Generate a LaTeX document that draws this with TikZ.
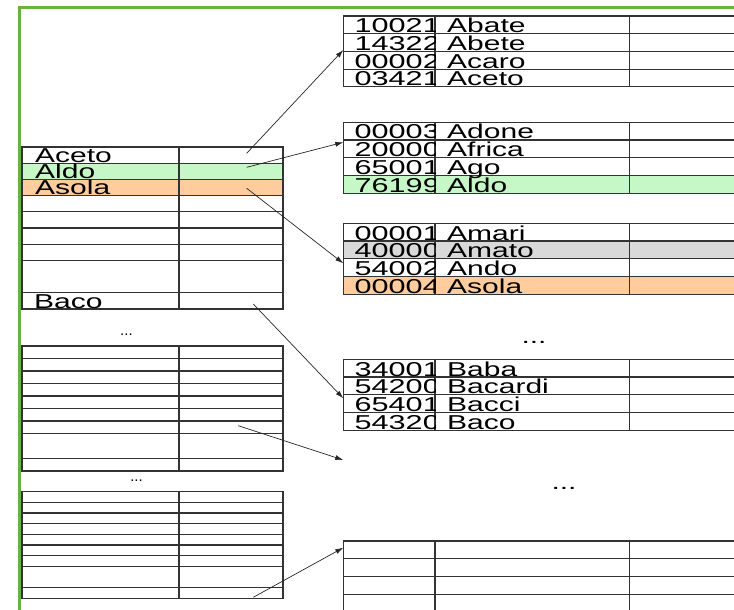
\documentclass[tikz,border=0pt]{standalone}
\usepackage{fontspec}
\setmainfont{Liberation Sans}
\usetikzlibrary{arrows.meta}
\definecolor{cornice}{RGB}{108,177,62}
\definecolor{verdino}{RGB}{198,247,198}
\definecolor{pesca}{RGB}{255,204,158}
\definecolor{grigino}{RGB}{217,217,217}
\newcommand{\schiaccia}[1]{\scalebox{1}[0.67]{#1}}
\newcommand{\chiave}[1]{\scalebox{1.02}[0.67]{#1}}
\tikzset{
  griglia/.style={draw=black!80, line width=1.1pt},
  voce/.style={anchor=base west, inner sep=0pt, font=\fontsize{30}{30}\selectfont},
  puntini/.style={anchor=base, inner sep=0pt, font=\fontsize{30}{30}\selectfont},
  puntinipiccoli/.style={anchor=base, inner sep=0pt, font=\fontsize{15}{15}\selectfont},
  puntatore/.style={black!85, line width=0.7pt, -{Latex[length=8pt,width=5pt]}}
}

\begin{document}
\begin{tikzpicture}[x=1pt, y=-1pt]
    \clip (0,0) rectangle (734,610);
    % cornice verde
    \draw[cornice, line width=3.3pt] (19.7,615) -- (19.7,7.5) -- (740,7.5);

    % righe evidenziate
    \fill[verdino] (22,163.2) rectangle (283,179.4);
    \fill[pesca] (22,179.4) rectangle (283,195.6);
    \fill[verdino] (343.3,175.4) rectangle (745,193.1);
    \fill[grigino] (343.3,241) rectangle (745,258.7);
    \fill[pesca] (343.3,276.4) rectangle (745,294.1);

    % indici a sinistra (primo bordo / altezza riga)
    \foreach \y/\h in {147/16.2, 346/12.5, 491.7/10.66} {
        \draw[griglia] (22,\y) rectangle (283,\y+10*\h);
        \draw[griglia] (179,\y) -- (179,\y+10*\h);
        \foreach \k in {1,...,7,9} \draw[griglia] (22,\y+\k*\h) -- (283,\y+\k*\h);
    }
    \node[voce] (iAceto) at (35,162) {\schiaccia{Aceto}};
    \node[voce] (iAldo) at (35,178.2) {\schiaccia{Aldo}};
    \node[voce] (iAsola) at (35,194.4) {\schiaccia{Asola}};
    \node[voce] (iBaco) at (34,308) {\schiaccia{Baco}};
    \node[puntinipiccoli] (dotsSx1) at (126.5,335.5) {...};
    \node[puntinipiccoli] (dotsSx2) at (136.5,481.5) {...};

    % blocchi dati a destra
    \foreach \y in {16,122.3,223.3,359.3,541} {
        \foreach \k in {0,...,4} \draw[griglia] (343.3,\y+\k*17.7) -- (745,\y+\k*17.7);
        \foreach \x in {343.3,435,629.3} \draw[griglia] (\x,\y) -- (\x,\y+4*17.7);
    }

    % chiavi (tagliate dalla colonna)
    \begin{scope}
        \clip (343.3,0) rectangle (435,610);
        \foreach \c [count=\r] in {10021,14322,00002,03421} \node[voce] (kA\r) at (354.5,15+\r*17.7) {\chiave{\c}};
        \foreach \c [count=\r] in {00003,20000,65001,76199} \node[voce] (kB\r) at (354.5,121.3+\r*17.7) {\chiave{\c}};
        \foreach \c [count=\r] in {00001,40000,54002,00004} \node[voce] (kC\r) at (354.5,222.3+\r*17.7) {\chiave{\c}};
        \foreach \c [count=\r] in {34001,54200,65401,54320} \node[voce] (kD\r) at (354.5,358.3+\r*17.7) {\chiave{\c}};
    \end{scope}
    \foreach \n [count=\r] in {Abate,Abete,Acaro,Aceto} \node[voce] (nA\r) at (447,15+\r*17.7) {\schiaccia{\n}};
    \foreach \n [count=\r] in {Adone,Africa,Ago,Aldo} \node[voce] (nB\r) at (447,121.3+\r*17.7) {\schiaccia{\n}};
    \foreach \n [count=\r] in {Amari,Amato,Ando,Asola} \node[voce] (nC\r) at (447,222.3+\r*17.7) {\schiaccia{\n}};
    \foreach \n [count=\r] in {Baba,Bacardi,Bacci,Baco} \node[voce] (nD\r) at (447,358.3+\r*17.7) {\schiaccia{\n}};
    \node[puntini] (dotsDx1) at (534,343) {\schiaccia{...}};
    \node[puntini] (dotsDx2) at (564,489) {\schiaccia{...}};

    % puntatori
    \coordinate (pAceto) at (246.7,153.3);
    \coordinate (pAldo) at (246.7,167.3);
    \coordinate (pAsola) at (246.7,188.3);
    \coordinate (pBaco) at (253.3,304);
    \coordinate (pMezzo) at (238.3,425.7);
    \coordinate (pFondo) at (253.3,597.3);
    \coordinate (bA) at (343.3,50);
    \coordinate (bB) at (343.3,142.3);
    \coordinate (bC) at (343.3,263.3);
    \coordinate (bD) at (343.3,398.3);
    \coordinate (bVuoto) at (343.3,460);
    \coordinate (bE) at (343.3,547.7);
    \draw[puntatore] (pAceto) -- (bA);
    \draw[puntatore] (pAldo) -- (bB);
    \draw[puntatore] (pAsola) -- (bC);
    \draw[puntatore] (pBaco) -- (bD);
    \draw[puntatore] (pMezzo) -- (bVuoto);
    \draw[puntatore] (pFondo) -- (bE);
\end{tikzpicture}
\end{document}
